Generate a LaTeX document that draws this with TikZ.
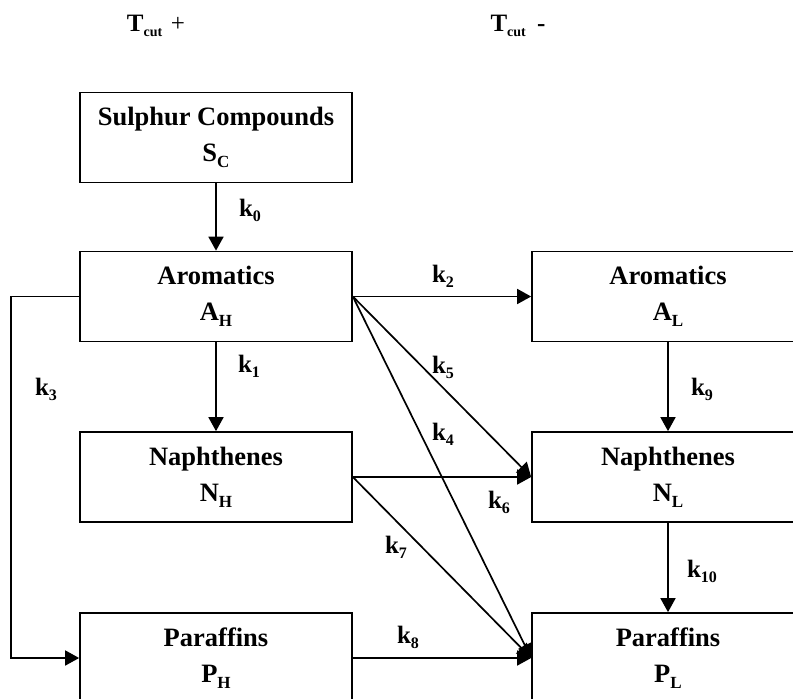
\documentclass[tikz,border=0pt]{standalone}
\usepackage{fontspec}
\setmainfont{Liberation Serif}
\usetikzlibrary{arrows.meta}
\newcommand\lowsub[1]{\raisebox{-0.22em}{\fontsize{17}{17}\selectfont #1}}
\newcommand\ksub[1]{\raisebox{-0.2em}{\fontsize{16}{16}\selectfont #1}}
\begin{document}
\begin{tikzpicture}[x=1pt,y=-1pt,
  box/.style={draw,line width=1.7pt,minimum width=272pt,minimum height=90pt,inner sep=0pt,align=center,
    font=\bfseries\fontsize{26.5}{36}\selectfont},
  conn/.style={line width=1.7pt,-{Triangle[length=14pt,width=15pt]}},
  klab/.style={font=\bfseries\fontsize{25}{25}\selectfont,inner sep=0pt}]
\path[use as bounding box,clip] (0,0) rectangle (793,699);
% boxes
\node[box] (SC) at (216,137.5) {Sulphur Compounds\\S\lowsub{C}};
\node[box] (AH) at (216,296.5) {Aromatics\\A\lowsub{H}};
\node[box] (NH) at (216,477) {Naphthenes\\N\lowsub{H}};
\node[box] (PH) at (216,658) {Paraffins\\P\lowsub{H}};
\node[box] (AL) at (668,296.5) {Aromatics\\A\lowsub{L}};
\node[box] (NL) at (668,477) {Naphthenes\\N\lowsub{L}};
\node[box] (PL) at (668,658) {Paraffins\\P\lowsub{L}};
% headers
\node[font=\bfseries\fontsize{25}{25}\selectfont,inner sep=0pt] (T1) at (156,26)
  {T{\fontsize{14}{14}\selectfont\raisebox{-0.35em}{cut}}\hspace{0.35em}\mdseries+};
\node[font=\bfseries\fontsize{25}{25}\selectfont,inner sep=0pt] (T2) at (518,26)
  {T{\fontsize{14}{14}\selectfont\raisebox{-0.35em}{cut}}\hspace{0.45em}-};
% connectors
\draw[conn] (SC.south) -- (AH.north);
\draw[conn] (AH.south) -- (NH.north);
\draw[conn] (AL.south) -- (NL.north);
\draw[conn] (NL.south) -- (PL.north);
\draw[conn] (AH.east) -- (AL.west);
\draw[conn] (AH.east) -- (NL.west);
\draw[conn] (AH.east) -- (PL.west);
\draw[conn] (NH.east) -- (NL.west);
\draw[conn] (NH.east) -- (PL.west);
\draw[conn] (PH.east) -- (PL.west);
\draw[conn] (AH.west) -- ++(-68,0) |- (PH.west);
% labels
\node[klab] (k0) at (250,210) {k\ksub{0}};
\node[klab] (k1) at (249,366) {k\ksub{1}};
\node[klab] (k3) at (46,389) {k\ksub{3}};
\node[klab] (k2) at (443,276) {k\ksub{2}};
\node[klab] (k5) at (443,367) {k\ksub{5}};
\node[klab] (k4) at (443,434) {k\ksub{4}};
\node[klab] (k6) at (499,502) {k\ksub{6}};
\node[klab] (k7) at (396,547) {k\ksub{7}};
\node[klab] (k8) at (408,637) {k\ksub{8}};
\node[klab] (k9) at (702,389) {k\ksub{9}};
\node[klab] (k10) at (702,571) {k\ksub{10}};
\end{tikzpicture}
\end{document}
